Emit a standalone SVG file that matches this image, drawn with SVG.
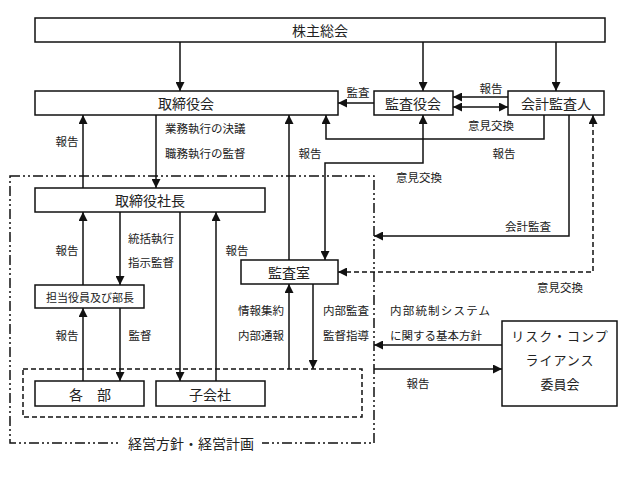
<svg xmlns="http://www.w3.org/2000/svg" width="625" height="479" viewBox="0 0 625 479">
<style>
text{font-family:"Noto Sans CJK JP","Noto Sans CJK SC",sans-serif;fill:#222;dominant-baseline:central}
.box{fill:#fff;stroke:#111;stroke-width:1.5}
.bt{font-size:14px;text-anchor:middle}
.lb{font-size:11.5px}
.c{text-anchor:middle}
.ln{fill:none;stroke:#111;stroke-width:1.5}
.dash{stroke-dasharray:5 3}
</style>
<defs>
<marker id="ah" viewBox="0 0 10 10" refX="10" refY="5" markerWidth="9" markerHeight="9" markerUnits="userSpaceOnUse" orient="auto-start-reverse">
<path d="M0,0 L10,5 L0,10 z" fill="#111"/>
</marker>
</defs>
<rect width="625" height="479" fill="#fff"/>

<g id="frames">
<rect x="10" y="176" width="364" height="267" fill="none" stroke="#111" stroke-width="1.5" stroke-dasharray="10 3 2 3 2 3"/>
<rect x="23" y="369" width="339" height="48" fill="none" stroke="#111" stroke-width="1.5" stroke-dasharray="5 3"/>
<rect x="120" y="434" width="142" height="18" fill="#fff"/>
<text x="191" y="443" style="font-size:14px" class="c">経営方針・経営計画</text>
</g>

<g id="connectors">
<path class="ln" d="M180,42 V91" marker-end="url(#ah)"/>
<path class="ln" d="M423,42 V91" marker-end="url(#ah)"/>
<path class="ln" d="M556,42 V91" marker-end="url(#ah)"/>
<path class="ln" d="M374,103 H338" marker-end="url(#ah)"/>
<path class="ln" d="M508,97 H453" marker-end="url(#ah)"/>
<path class="ln" d="M453,107 H508" marker-start="url(#ah)" marker-end="url(#ah)"/>
<path class="ln" d="M544,115 V139 H326 V115" marker-end="url(#ah)"/>
<path class="ln" d="M423,115 V163 H325 V260" marker-start="url(#ah)" marker-end="url(#ah)"/>
<path class="ln" d="M83,188 V115" marker-end="url(#ah)"/>
<path class="ln" d="M156,115 V188" marker-end="url(#ah)"/>
<path class="ln" d="M289,260 V115" marker-end="url(#ah)"/>
<path class="ln" d="M569,115 V236 H374" marker-end="url(#ah)"/>
<path class="ln dash" d="M338,272 H593 V115" marker-start="url(#ah)" marker-end="url(#ah)"/>
<path class="ln" d="M83,285 V212" marker-end="url(#ah)"/>
<path class="ln" d="M120,212 V285" marker-end="url(#ah)"/>
<path class="ln" d="M180,212 V381" marker-end="url(#ah)"/>
<path class="ln" d="M216,381 V212" marker-end="url(#ah)"/>
<path class="ln" d="M83,381 V308" marker-end="url(#ah)"/>
<path class="ln" d="M120,308 V381" marker-end="url(#ah)"/>
<path class="ln" d="M289,369 V284" marker-end="url(#ah)"/>
<path class="ln" d="M313,284 V369" marker-end="url(#ah)"/>
<path class="ln" d="M502,345 H374" marker-end="url(#ah)"/>
<path class="ln" d="M374,369 H502" marker-end="url(#ah)"/>
</g>

<g id="labels">
<text class="lb c" x="67" y="141">報告</text>
<text class="lb" x="165" y="128">業務執行の決議</text>
<text class="lb" x="165" y="153">職務執行の監督</text>
<text class="lb c" x="310" y="153">報告</text>
<text class="lb c" x="358" y="92">監査</text>
<text class="lb c" x="491" y="88">報告</text>
<text class="lb c" x="491" y="125">意見交換</text>
<text class="lb c" x="504" y="153">報告</text>
<text class="lb c" x="419" y="177">意見交換</text>
<text class="lb c" x="528" y="226">会計監査</text>
<text class="lb c" x="560" y="287">意見交換</text>
<text class="lb c" x="67" y="250">報告</text>
<text class="lb" x="128" y="238">統括執行</text>
<text class="lb" x="128" y="262">指示監督</text>
<text class="lb c" x="237" y="250">報告</text>
<text class="lb c" x="261" y="310">情報集約</text>
<text class="lb c" x="261" y="335">内部通報</text>
<text class="lb c" x="346" y="310">内部監査</text>
<text class="lb c" x="346" y="335">監督指導</text>
<text class="lb" x="390" y="310" style="letter-spacing:1.2px">内部統制システム</text>
<text class="lb" x="390" y="335">に関する基本方針</text>
<text class="lb c" x="418" y="383">報告</text>
<text class="lb c" x="67" y="335">報告</text>
<text class="lb c" x="140" y="335">監督</text>
</g>

<g id="n-kabunushi"><rect class="box" x="35" y="18" width="570" height="24"/><text class="bt" x="320" y="30">株主総会</text></g>
<g id="n-torishimariyakukai"><rect class="box" x="35" y="91" width="303" height="24"/><text class="bt" x="186" y="103">取締役会</text></g>
<g id="n-kansayakukai"><rect class="box" x="374" y="91" width="79" height="24"/><text class="bt" x="413" y="103">監査役会</text></g>
<g id="n-kaikei"><rect class="box" x="508" y="91" width="96" height="24"/><text class="bt" x="556" y="103">会計監査人</text></g>
<g id="n-shacho"><rect class="box" x="35" y="188" width="230" height="24"/><text class="bt" x="150" y="200">取締役社長</text></g>
<g id="n-kansashitsu"><rect class="box" x="241" y="260" width="97" height="24"/><text class="bt" x="289" y="272">監査室</text></g>
<g id="n-tanto"><rect class="box" x="35" y="285" width="109" height="23"/><text class="c" style="font-size:11px" x="90" y="297">担当役員及び部長</text></g>
<g id="n-kakubu"><rect class="box" x="35" y="381" width="109" height="25"/><text class="bt" x="90" y="394">各　部</text></g>
<g id="n-kogaisha"><rect class="box" x="156" y="381" width="109" height="25"/><text class="bt" x="210" y="394">子会社</text></g>
<g id="n-risk"><rect class="box" x="502" y="321" width="115" height="85"/>
<text class="c" style="font-size:13px;letter-spacing:1px" x="560" y="335">リスク・コンプ</text>
<text class="c" style="font-size:13px;letter-spacing:1px" x="560" y="359">ライアンス</text>
<text class="c" style="font-size:13px" x="560" y="383">委員会</text></g>
</svg>
